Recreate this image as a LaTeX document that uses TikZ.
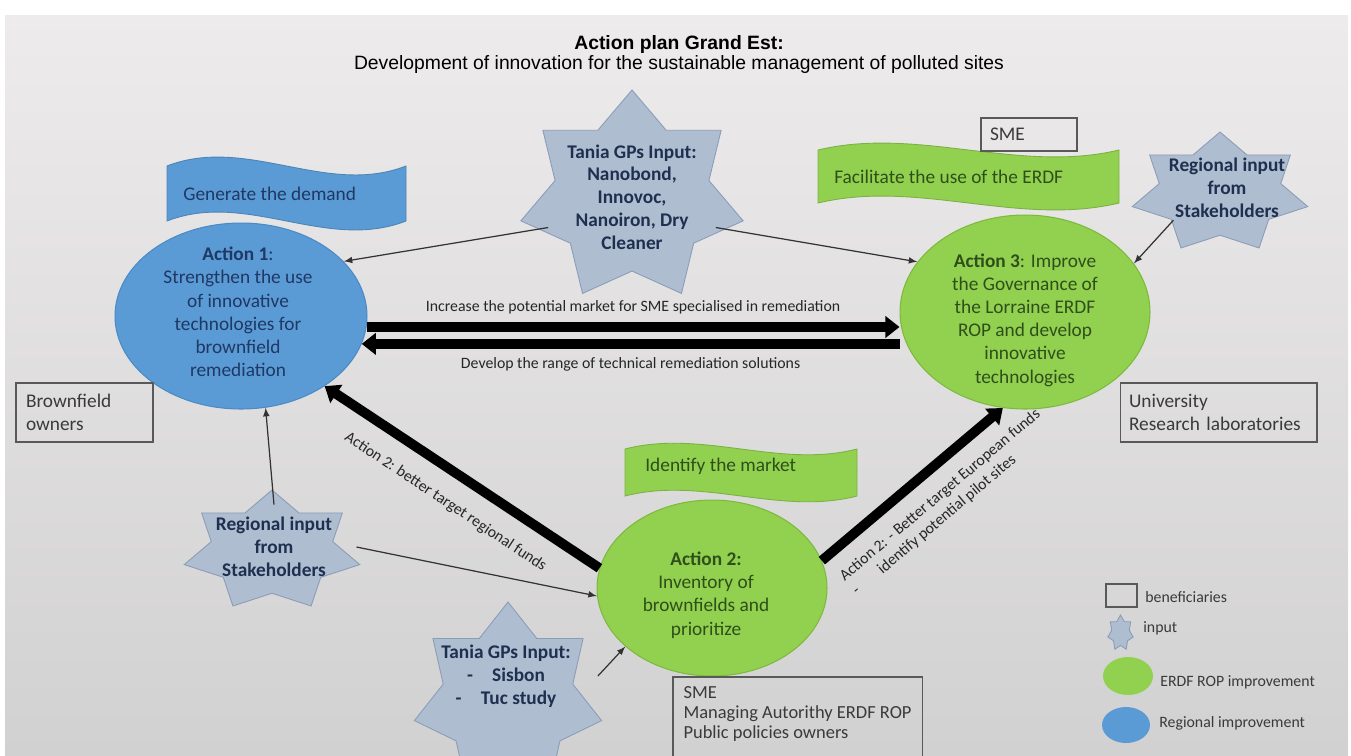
\documentclass[tikz,border=0pt]{standalone}
\usepackage{fontspec}
\setmainfont{Carlito}
\newfontfamily\titelschrift{Liberation Sans}
\usetikzlibrary{arrows.meta,shapes.geometric}

\definecolor{hgoben}{HTML}{EDEBEB}
\definecolor{hgunten}{HTML}{D2D1D1}
\definecolor{regblau}{HTML}{5B9BD5}
\definecolor{regrand}{HTML}{4A8AC6}
\definecolor{blautext}{HTML}{1F3864}
\definecolor{efregruen}{HTML}{92D050}
\definecolor{efrerand}{HTML}{7DBA3C}
\definecolor{gruentext}{HTML}{2F4F1A}
\definecolor{sternfarbe}{HTML}{AFBDD0}
\definecolor{sternrand}{HTML}{8A9DB8}
\definecolor{sterntext}{HTML}{1F2F4F}
\definecolor{rahmen}{HTML}{595959}
\definecolor{schrift}{HTML}{3A3A3A}

\tikzset{
  titel/.style={font=\titelschrift\fontsize{11}{13}\selectfont},
  fahnentext/.style={anchor=west,inner sep=0pt,font=\fontsize{11}{13}\selectfont},
  regional/.style={ellipse,inner sep=0pt,fill=regblau,draw=regrand,line width=0.6pt},
  efre/.style={ellipse,inner sep=0pt,fill=efregruen,draw=efrerand,line width=0.6pt},
  massnahmetext/.style={align=center,inner sep=0pt,font=\fontsize{11}{13.2}\selectfont},
  eingabe/.style={ellipse,inner sep=0pt,align=center,text=sterntext,
    font=\bfseries\fontsize{11}{13}\selectfont},
  nutzer/.style={draw=rahmen,line width=0.6pt,inner ysep=0pt,align=left,text=schrift,
    font=\fontsize{11}{13}\selectfont},
  duenn/.style={->,draw=black!80,line width=0.7pt},
  dickpfeil/.style={line width=5.6pt,-{Triangle[length=8pt,width=12pt]}},
  dickpfeilr/.style={line width=5.6pt,{Triangle[length=8pt,width=12pt]}-},
  pfeiltext/.style={font=\fontsize{9}{11}\selectfont,text=black!85},
  legende/.style={anchor=west,inner sep=0pt,text=schrift,font=\fontsize{9}{11}\selectfont}
}

% Stern mit sieben Zacken: Mittelpunkt, Radius x, Radius y
\newcommand{\sternform}[3]{%
  \filldraw[fill=sternfarbe,draw=sternrand,line width=0.5pt,shift={(#1)}]
    (-90:#2 and #3)
    \foreach \k [evaluate=\k as \fak using {1-0.308*mod(\k,2)}] in {1,...,13}
      { -- ({-90+\k*180/7}:{\fak*#2} and {\fak*#3}) } -- cycle;}

% Fahne: links, rechts, oben, unten, Welle, Farbe
\newcommand{\fahne}[6]{%
  \filldraw[fill=#6,draw=#6!85!black,line width=0.5pt]
    (#1,#3) .. controls ({#1+(#2-#1)/3},{#3-#5}) and ({#1+2*(#2-#1)/3},{#3+#5}) .. (#2,#3)
    -- (#2,#4) .. controls ({#1+2*(#2-#1)/3},{#4+#5}) and ({#1+(#2-#1)/3},{#4-#5}) .. (#1,#4)
    -- cycle;}

\begin{document}
\begin{tikzpicture}[x=0.02cm,y=-0.02cm,>=latex]
\useasboundingbox (0,0) rectangle (1351,755);

% Hintergrund
\fill[white] (0,0) rectangle (1351,755);
\shade[top color=hgoben,bottom color=hgunten] (5,15) rectangle (1348,755);

% Titel
\node[titel] (titel) at (679,44) {\bfseries Action plan Grand Est:};
\node[titel] (untertitel) at (679,64) {Development of innovation for the sustainable management of polluted sites};

% Fahnen
\fahne{167}{406}{166}{221}{31}{regblau}
\node[fahnentext,text=blautext] (fahne1) at (183,194) {Generate the demand};
\fahne{818}{1119}{150}{203}{24}{efregruen}
\node[fahnentext,text=gruentext] (fahne3) at (834,177) {Facilitate the use of the ERDF};
\fahne{625}{857}{449}{496}{20}{efregruen}
\node[fahnentext,text=gruentext] (fahne2) at (645,466) {Identify the market};

% Massnahmen
\node[regional,minimum width=5.04cm,minimum height=3.72cm] (a1) at (241,316) {};
\node[massnahmetext,text=blautext] (a1text) at (238,312)
  {\textbf{Action 1}:\\Strengthen the use\\of innovative\\technologies for\\brownfield\\remediation};
\node[efre,minimum width=4.6cm,minimum height=3.52cm] (a2) at (712,588) {};
\node[massnahmetext,text=gruentext] (a2text) at (706,595)
  {\textbf{Action 2:}\\Inventory of\\brownfields and\\prioritize};
\node[efre,minimum width=5cm,minimum height=3.88cm] (a3) at (1025,312) {};
\node[massnahmetext,text=gruentext] (a3text) at (1025,320)
  {\textbf{Action 3}: Improve\\the Governance of\\the Lorraine ERDF\\ROP and develop\\innovative\\technologies};

% Eingaben
\sternform{632,197}{114}{107}
\node[eingabe] (tania1) at (632,197) {Tania GPs Input:\\Nanobond,\\Innovoc,\\Nanoiron, Dry\\Cleaner};
\sternform{1220,193}{90}{61}
\node[eingabe] (region1) at (1227,188) {Regional input\\from\\Stakeholders};
\sternform{272,551}{90}{61}
\node[eingabe] (region2) at (274,547) {Regional input\\from\\Stakeholders};
\sternform{508,699}{96}{97}
\node[eingabe] (tania2) at (506,676) {Tania GPs Input:\\-\quad Sisbon\\-\quad Tuc study};

% Beguenstigte
\node[nutzer,minimum width=1.92cm,minimum height=0.66cm,text width=1.56cm,inner xsep=0.18cm]
  (kmu) at (1029,134.5) {SME};
\node[nutzer,minimum width=2.74cm,minimum height=1.18cm,text width=2.34cm,inner xsep=0.2cm]
  (eigner) at (84.5,412.5) {Brownfield\\owners};
\node[nutzer,minimum width=3.94cm,minimum height=1.18cm,text width=3.58cm,inner xsep=0.18cm]
  (uni) at (1218.5,412.5) {University\\Research laboratories};
\node[nutzer,draw=none,anchor=north west,inner xsep=0.2cm,inner ysep=0.18cm,
  font=\fontsize{10.5}{11.4}\selectfont]
  (verwaltung) at (673,677) {SME\\Managing Autorithy ERDF ROP\\Public policies owners};
\draw[rahmen,line width=0.6pt] (verwaltung.north west) rectangle (verwaltung.north east |- 0,790);

% duenne Pfeile
\draw[duenn] (tania1.200) -- (a1.28);
\draw[duenn] (tania1.-20) -- (a3.155);
\draw[duenn] (region1.211) -- (a3.24);
\draw[duenn] (region2.north) -- (a1.-75);
\draw[duenn] (region2.east) -- (a2.184);
\draw[duenn] (tania2.east) -- (a2.214);

% dicke Pfeile
\draw[dickpfeil] (a1.-5) -- node[pfeiltext,above=1.5pt] (markt)
  {Increase the potential market for SME specialised in remediation} (a1.-5 -| a3.west);
\draw[dickpfeil] (a1.-13 -| a3.west) -- node[pfeiltext,below=1.5pt] (loesungen)
  {Develop the range of technical remediation solutions} (a1.-13);
\draw[dickpfeilr] (a1.-40) -- node[pfeiltext,sloped,below=7pt] (regfonds)
  {Action 2: better target regional funds} (a2.170);
\draw[dickpfeil] (a2.14) -- node[pfeiltext,sloped,below=5pt,pos=0.56,align=left] (eufonds)
  {Action 2: - Better target European funds\\-\hspace{1.8em}identify potential pilot sites} (a3.-103);

% Legende
\draw[rahmen,line width=0.6pt] (1106,584) rectangle (1137,607);
\node[legende] (leg1) at (1145,597) {beneficiaries};
\sternform{1120.5,633}{13}{18}
\node[legende] (leg2) at (1143,628) {input};
\fill[efregruen] (1128,676) ellipse [x radius=25,y radius=19];
\node[legende] (leg3) at (1160,682) {ERDF ROP improvement};
\fill[regblau] (1126,725) ellipse [x radius=24,y radius=18];
\node[legende] (leg4) at (1159,723) {Regional improvement};

\end{tikzpicture}
\end{document}
